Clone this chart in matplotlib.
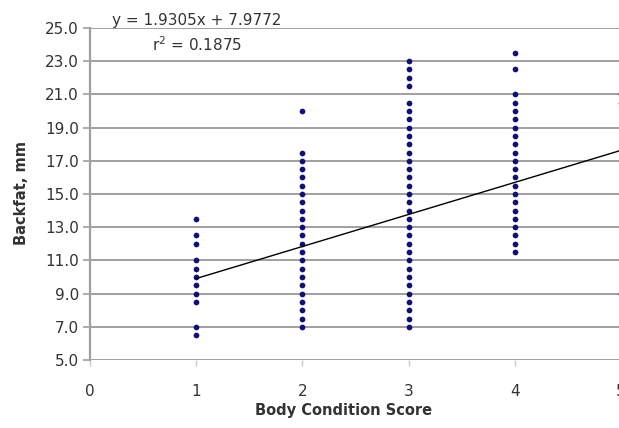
import matplotlib

matplotlib.use("Agg")
import matplotlib.pyplot as plt

# Backfat (mm), grouped by body condition score
bcs = [1, 2, 3, 4, 5]
backfat_1 = [13.5, 12.5, 12.0, 11.0, 10.5, 10.0, 9.5, 9.0, 8.5, 7.0, 6.5]
backfat_2 = [20.0, 17.5, 17.0, 16.5, 16.0, 15.5, 15.0, 14.5, 14.0, 13.5, 13.0,
             12.5, 12.0, 11.5, 11.0, 10.5, 10.0, 9.5, 9.0, 8.5, 8.0, 7.5, 7.0]
backfat_3 = [23.0, 22.5, 22.0, 21.5, 20.5, 20.0, 19.5, 19.0, 18.5, 18.0, 17.5,
             17.0, 16.5, 16.0, 15.5, 15.0, 14.5, 14.0, 13.5, 13.0, 12.5, 12.0,
             11.5, 11.0, 10.5, 10.0, 9.5, 9.0, 8.5, 8.0, 7.5, 7.0]
backfat_4 = [23.5, 22.5, 21.0, 20.5, 20.0, 19.5, 19.0, 18.5, 18.0, 17.5, 17.0,
             16.5, 16.0, 15.5, 15.0, 14.5, 14.0, 13.5, 13.0, 12.5, 12.0, 11.5]
backfat_5 = [21.0, 20.5, 9.0]
groups = [backfat_1, backfat_2, backfat_3, backfat_4, backfat_5]

# linear trendline as printed on the chart
slope, intercept, r2 = 1.9305, 7.9772, 0.1875
trend_x = [1, 5]

x_ticks = [0, 1, 2, 3, 4, 5]
y_ticks = [5.0, 7.0, 9.0, 11.0, 13.0, 15.0, 17.0, 19.0, 21.0, 23.0, 25.0]

TXT = "#333333"
GRID = "#a0a0a0"

W, H = 619, 428
fig = plt.figure(figsize=(W / 100, H / 100), dpi=100)
# plot area runs slightly past the right edge: the source image is cropped at x=5
ax = fig.add_axes([90 / W, 68 / H, (621 - 90) / W, 332 / H])

xs, ys = [], []
for b, vals in zip(bcs, groups):
    xs += [b] * len(vals)
    ys += vals
ax.scatter(xs, ys, s=17, color="#10107a", zorder=3, clip_on=False, linewidths=0)

ax.plot(trend_x, [slope * v + intercept for v in trend_x], color="black", lw=1.0, zorder=4)

ax.set_xlim(0, 5)
ax.set_ylim(5, 25)
ax.set_xticks(x_ticks)
ax.set_yticks(y_ticks)
ax.set_yticklabels([f"{v:.1f}" for v in y_ticks])
for v in y_ticks:
    ax.axhline(v, color=GRID, lw=1.4, zorder=1)

for s in ["top", "right", "bottom"]:
    ax.spines[s].set_visible(False)
ax.spines["left"].set_color(GRID)
ax.spines["left"].set_linewidth(1.6)

ax.tick_params(axis="y", length=5, width=1.2, color=GRID, pad=3, labelsize=11, labelcolor=TXT)
ax.tick_params(axis="x", length=4, width=1.0, color="#c8c8c8", pad=13, labelsize=11, labelcolor=TXT)

fig.text(344 / W, 1 - 410 / H, "Body Condition Score", ha="center", va="center",
         fontsize=10.5, fontweight="bold", color=TXT)
fig.text(22 / W, 1 - 193 / H, "Backfat, mm", ha="center", va="center", rotation=90,
         fontsize=10.5, fontweight="bold", color=TXT)

fig.text(197 / W, 1 - 21 / H, f"y = {slope:.4f}x + {intercept:.4f}", ha="center", va="center",
         fontsize=11, color=TXT)
fig.text(197 / W, 1 - 45 / H, f"r$^2$ = {r2:.4f}", ha="center", va="center",
         fontsize=11, color=TXT)

fig.savefig("out.png", dpi=100)
